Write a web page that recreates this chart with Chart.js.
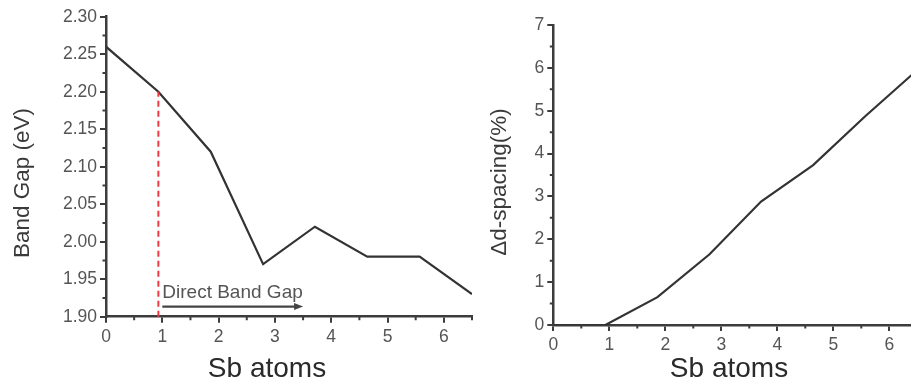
<!DOCTYPE html>
<html>
<head>
<meta charset="utf-8">
<script src="https://cdn.jsdelivr.net/npm/chart.js@4/dist/chart.umd.min.js"></script>
<style>
  html, body { margin: 0; padding: 0; background: #fff; overflow: hidden; width: 911px; height: 386px; }
  canvas { position: absolute; top: 0; }
  #gapChart { left: 0; }
  #spacingChart { left: 480px; }
</style>
</head>
<body>
<canvas id="gapChart" width="480" height="386"></canvas>
<canvas id="spacingChart" width="445" height="386"></canvas>
<script>
// Number of Sb atoms (x positions shared by both panels)
const sbAtoms   = [0, 0.93, 1.86, 2.79, 3.71, 4.64, 5.57, 6.5];
// Band gap (eV) for each composition
const bandGap   = [2.26, 2.20, 2.12, 1.97, 2.02, 1.98, 1.98, 1.93];
// Change in d-spacing (%) for each composition
const dSpacing  = [0, 0, 0.65, 1.65, 2.88, 3.73, 4.87, 5.95];

// Tick labels
const xTicks       = [0, 1, 2, 3, 4, 5, 6];
const gapTicks     = [1.90, 1.95, 2.00, 2.05, 2.10, 2.15, 2.20, 2.25, 2.30];
const spacingTicks = [0, 1, 2, 3, 4, 5, 6, 7];

// Onset of the direct band gap region
const directGapStart = sbAtoms[1];
const directGapArrow = [1.0, 3.5];

const FONT = "'Liberation Sans', Arial, sans-serif";
const AXIS = '#3c3c3c';
const TICK = '#555555';
const LINE = '#333333';

function xScale(height) {
  return {
    type: 'linear', min: 0, max: 6.5,
    afterBuildTicks: s => { s.ticks = xTicks.map(v => ({ value: v })); },
    afterFit: s => { s.height = height; },
    grid: { drawOnChartArea: false, drawTicks: true, tickLength: 6, color: AXIS, lineWidth: 2 },
    border: { color: AXIS, width: 2.5 },
    ticks: { color: TICK, font: { family: FONT, size: 17.5 }, padding: 4, maxRotation: 0, autoSkip: false }
  };
}

function yScale(width, min, max, ticks, fmt) {
  return {
    type: 'linear', min, max,
    afterBuildTicks: s => { s.ticks = ticks.map(v => ({ value: v })); },
    afterFit: s => { s.width = width; },
    grid: { drawOnChartArea: false, drawTicks: true, tickLength: 6, color: AXIS, lineWidth: 2 },
    border: { color: AXIS, width: 2.5 },
    ticks: { color: TICK, font: { family: FONT, size: 17.5 }, padding: 3, autoSkip: false, callback: fmt }
  };
}

// Short outward ticks halfway between the labelled ones
const minorTicks = {
  id: 'minorTicks',
  afterDraw(chart, args, opts) {
    const { ctx } = chart;
    const x = chart.scales.x, y = chart.scales.y;
    ctx.save();
    ctx.strokeStyle = AXIS;
    ctx.lineWidth = 2;
    ctx.beginPath();
    for (let i = 0; ; i++) {
      const v = x.min + opts.xStep * (i + 0.5);
      if (v > x.max + 1e-9) break;
      const px = x.getPixelForValue(v);
      ctx.moveTo(px, y.bottom);
      ctx.lineTo(px, y.bottom + 3.5);
    }
    for (let i = 0; ; i++) {
      const v = y.min + opts.yStep * (i + 0.5);
      if (v > y.max + 1e-9) break;
      const py = y.getPixelForValue(v);
      ctx.moveTo(x.left, py);
      ctx.lineTo(x.left - 3.5, py);
    }
    ctx.stroke();
    ctx.restore();
  }
};

// Axis captions placed in canvas space
const captions = {
  id: 'captions',
  afterDraw(chart, args, opts) {
    const { ctx } = chart;
    ctx.save();
    ctx.textAlign = 'center';
    ctx.textBaseline = 'middle';
    ctx.fillStyle = '#2a2a2a';
    ctx.font = `28px ${FONT}`;
    ctx.fillText(opts.xText, opts.xPos[0], opts.xPos[1]);
    ctx.fillStyle = '#3a3a3a';
    ctx.font = `22.5px ${FONT}`;
    ctx.translate(opts.yPos[0], opts.yPos[1]);
    ctx.rotate(-Math.PI / 2);
    ctx.fillText(opts.yText, 0, 0);
    ctx.restore();
  }
};

// Dashed onset marker and "Direct Band Gap" arrow
const gapMarker = {
  id: 'gapMarker',
  afterDatasetsDraw(chart) {
    const { ctx } = chart;
    const x = chart.scales.x, y = chart.scales.y;
    ctx.save();
    const mx = x.getPixelForValue(directGapStart);
    ctx.strokeStyle = '#ee3b45';
    ctx.lineWidth = 2;
    ctx.setLineDash([6, 4]);
    ctx.beginPath();
    ctx.moveTo(mx, y.getPixelForValue(gapTicks[0]));
    ctx.lineTo(mx, y.getPixelForValue(bandGap[1]));
    ctx.stroke();
    ctx.setLineDash([]);

    const ay = y.getPixelForValue(1.9135);
    const ax0 = x.getPixelForValue(directGapArrow[0]);
    const ax1 = x.getPixelForValue(directGapArrow[1]);
    ctx.strokeStyle = '#444';
    ctx.fillStyle = '#444';
    ctx.lineWidth = 2.2;
    ctx.beginPath();
    ctx.moveTo(ax0, ay);
    ctx.lineTo(ax1 - 7, ay);
    ctx.stroke();
    ctx.beginPath();
    ctx.moveTo(ax1, ay);
    ctx.lineTo(ax1 - 9, ay - 3.5);
    ctx.lineTo(ax1 - 9, ay + 3.5);
    ctx.closePath();
    ctx.fill();

    ctx.fillStyle = '#555';
    ctx.font = `19px ${FONT}`;
    ctx.textAlign = 'left';
    ctx.textBaseline = 'alphabetic';
    ctx.fillText('Direct Band Gap', x.getPixelForValue(1.0), y.getPixelForValue(1.9245));
    ctx.restore();
  }
};

const common = {
  responsive: false,
  animation: false,
  devicePixelRatio: 1,
  plugins: { legend: { display: false }, tooltip: { enabled: false } }
};

function lineSet(values) {
  return {
    data: sbAtoms.map((x, i) => ({ x, y: values[i] })),
    borderColor: LINE, borderWidth: 2.2, pointRadius: 0, tension: 0, fill: false
  };
}

new Chart(document.getElementById('gapChart'), {
  type: 'line',
  data: { datasets: [lineSet(bandGap)] },
  options: {
    ...common,
    layout: { padding: { top: 16.7, right: 8, left: 0, bottom: 0 } },
    scales: {
      x: xScale(69.3),
      y: yScale(106, 1.90, 2.30, gapTicks, v => v.toFixed(2))
    },
    plugins: {
      ...common.plugins,
      minorTicks: { xStep: 1, yStep: 0.05 },
      captions: { xText: 'Sb atoms', xPos: [267, 369], yText: 'Band Gap (eV)', yPos: [23, 183] }
    }
  },
  plugins: [minorTicks, gapMarker, captions]
});

new Chart(document.getElementById('spacingChart'), {
  type: 'line',
  data: { datasets: [lineSet(dSpacing)] },
  options: {
    ...common,
    layout: { padding: { top: 25, right: 7.7, left: 0, bottom: 0 } },
    scales: {
      x: xScale(61),
      y: yScale(73.3, 0, 7, spacingTicks, v => String(v))
    },
    plugins: {
      ...common.plugins,
      minorTicks: { xStep: 1, yStep: 1 },
      captions: { xText: 'Sb atoms', xPos: [249, 369], yText: 'Δd-spacing(%)', yPos: [20, 182] }
    }
  },
  plugins: [minorTicks, captions]
});
</script>
</body>
</html>
